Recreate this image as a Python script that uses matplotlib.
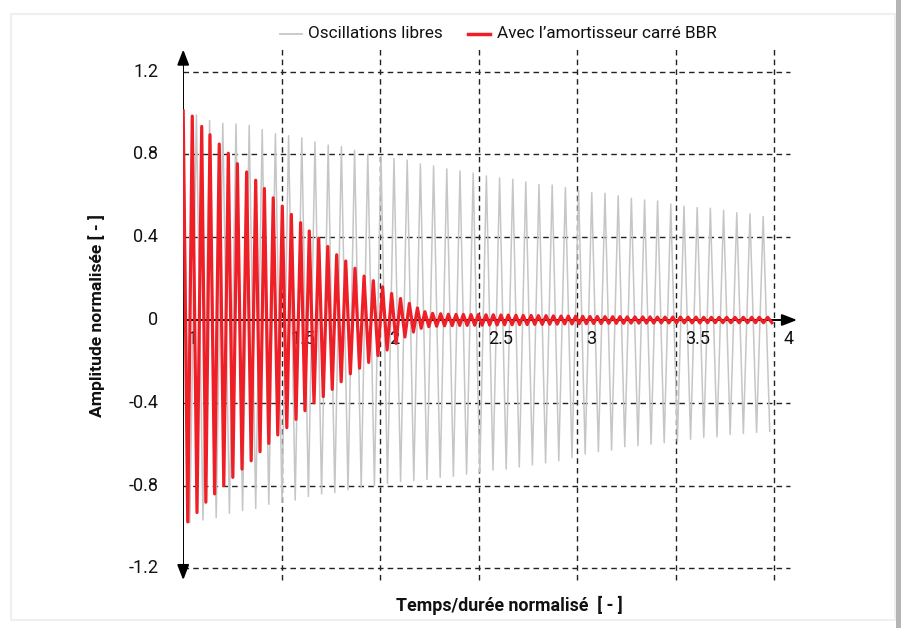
import matplotlib
matplotlib.use("Agg")
import matplotlib.pyplot as plt
from matplotlib.lines import Line2D
from matplotlib.patches import Rectangle
from matplotlib import font_manager as fm

# ---------------- data ----------------
# free oscillations: positive peaks (x, y) and the trough that follows each peak
gray_peak_x = [1.000, 1.067, 1.134, 1.201, 1.268, 1.335, 1.401, 1.468, 1.535, 1.602,
               1.669, 1.736, 1.803, 1.870, 1.937, 2.004, 2.070, 2.137, 2.204, 2.271,
               2.338, 2.405, 2.472, 2.539, 2.606, 2.673, 2.739, 2.806, 2.873, 2.940,
               3.007, 3.074, 3.141, 3.208, 3.275, 3.342, 3.408, 3.475, 3.542, 3.609,
               3.676, 3.743, 3.810, 3.877, 3.944]
gray_peak_y = [1.00, 0.99, 0.963, 0.95, 0.947, 0.94, 0.92, 0.90, 0.89, 0.88,
               0.86, 0.845, 0.837, 0.82, 0.80, 0.79, 0.78, 0.773, 0.754, 0.744,
               0.73, 0.72, 0.71, 0.696, 0.686, 0.68, 0.667, 0.655, 0.652, 0.64,
               0.628, 0.615, 0.612, 0.60, 0.588, 0.58, 0.575, 0.56, 0.55, 0.543,
               0.54, 0.53, 0.518, 0.512, 0.50]
gray_trough_y = [-0.98, -0.966, -0.955, -0.934, -0.92, -0.91, -0.89, -0.88, -0.87, -0.853,
                 -0.84, -0.834, -0.82, -0.81, -0.80, -0.79, -0.78, -0.776, -0.77, -0.76,
                 -0.755, -0.745, -0.735, -0.725, -0.72, -0.71, -0.70, -0.69, -0.68, -0.665,
                 -0.647, -0.636, -0.628, -0.612, -0.607, -0.60, -0.593, -0.587, -0.576, -0.567,
                 -0.564, -0.553, -0.548, -0.543, -0.537]

# with the BBR square damper: positive peaks (x, y) and the following troughs
red_peak_x = [1.000, 1.046, 1.094, 1.136, 1.183, 1.229, 1.275, 1.322, 1.368, 1.412,
              1.457, 1.503, 1.549, 1.596, 1.640, 1.688, 1.734, 1.779, 1.825, 1.872,
              1.918, 1.965, 2.012, 2.058, 2.103, 2.148, 2.189, 2.227, 2.266, 2.307,
              2.346, 2.385, 2.422, 2.461, 2.498, 2.537, 2.574, 2.613, 2.650, 2.689,
              2.726, 2.766, 2.803, 2.842, 2.879, 2.918, 2.955, 2.992, 3.028, 3.065,
              3.102, 3.141, 3.180, 3.217, 3.254, 3.293, 3.333, 3.370, 3.407, 3.446,
              3.485, 3.524, 3.563, 3.603, 3.642, 3.681, 3.720, 3.759, 3.801, 3.843,
              3.886, 3.924, 3.967]
red_peak_y = [1.01, 0.985, 0.935, 0.895, 0.85, 0.805, 0.755, 0.715, 0.675, 0.635,
              0.59, 0.55, 0.51, 0.47, 0.43, 0.395, 0.355, 0.315, 0.285, 0.25,
              0.212, 0.19, 0.16, 0.128, 0.104, 0.08, 0.058, 0.04, 0.032, 0.03,
              0.028, 0.027, 0.027, 0.026, 0.026, 0.025, 0.025, 0.024, 0.024, 0.023,
              0.022, 0.022, 0.021, 0.021, 0.020, 0.019, 0.019, 0.018, 0.018, 0.017,
              0.017, 0.016, 0.016, 0.016, 0.015, 0.015, 0.015, 0.015, 0.014, 0.014,
              0.014, 0.014, 0.014, 0.014, 0.013, 0.013, 0.013, 0.013, 0.013, 0.013,
              0.013, 0.013, 0.013]
red_trough_y = [-0.975, -0.93, -0.88, -0.84, -0.80, -0.76, -0.72, -0.68, -0.636, -0.596,
                -0.555, -0.52, -0.48, -0.438, -0.40, -0.37, -0.335, -0.298, -0.26, -0.233,
                -0.205, -0.172, -0.145, -0.113, -0.082, -0.058, -0.04, -0.032, -0.03, -0.028,
                -0.027, -0.026, -0.026, -0.025, -0.025, -0.024, -0.024, -0.023, -0.023, -0.022,
                -0.022, -0.021, -0.021, -0.020, -0.020, -0.019, -0.019, -0.018, -0.018, -0.017,
                -0.017, -0.016, -0.016, -0.016, -0.015, -0.015, -0.015, -0.015, -0.014, -0.014,
                -0.014, -0.014, -0.014, -0.014, -0.013, -0.013, -0.013, -0.013, -0.013, -0.013,
                -0.013, -0.013, -0.013]

x_ticks = [1, 1.5, 2, 2.5, 3, 3.5, 4]
x_tick_labels = ["1", "1.5", "2", "2.5", "3", "3.5", "4"]
y_ticks = [1.2, 0.8, 0.4, 0, -0.4, -0.8, -1.2]
y_tick_labels = ["1.2", "0.8", "0.4", "0", "-0.4", "-0.8", "-1.2"]

series_labels = ["Oscillations libres", "Avec l\u2019amortisseur carré BBR"]
x_label = "Temps/durée normalisé  [ - ]"
y_label = "Amplitude normalisée [ - ]"

# ---------------- style ----------------
avail = {f.name for f in fm.fontManager.ttflist}
fam = [f for f in ["Liberation Sans Narrow", "Roboto", "DejaVu Sans"] if f in avail]
plt.rcParams["font.family"] = fam
GRAY = "#c6c6c6"
RED = "#ee1f26"


def extrema_path(px, py, ty):
    xs, ys = [], []
    n = len(px)
    for i in range(n):
        xs.append(px[i]); ys.append(py[i])
        if i + 1 < n:
            tx = (px[i] + px[i + 1]) / 2
        else:
            tx = px[i] + (px[i] - px[i - 1]) / 2
        xs.append(tx); ys.append(ty[i])
    return xs, ys


W, H = 901, 628
fig = plt.figure(figsize=(W / 100, H / 100), dpi=100)
fig.patch.set_facecolor("white")

# page frame
fig.add_artist(Rectangle((11 / W, 1 - 620 / H), 884 / W, 606 / H, transform=fig.transFigure,
                         facecolor="none", edgecolor="#efefef", lw=1.5))
fig.add_artist(Rectangle((896 / W, 0), 5 / W, 1, transform=fig.transFigure,
                         facecolor="#b5b5b5", edgecolor="none"))

x0, x1 = 1.0, 4.13
y0, y1 = -1.26, 1.33
left_px, xs_px = 183.2, 197.0
zero_px, ys_px = 320.0, 207.0
ax_left = left_px
ax_right = left_px + (x1 - x0) * xs_px
ax_top = zero_px - y1 * ys_px
ax_bot = zero_px - y0 * ys_px
ax = fig.add_axes([ax_left / W, 1 - ax_bot / H, (ax_right - ax_left) / W, (ax_bot - ax_top) / H])
ax.set_xlim(x0, x1)
ax.set_ylim(y0, y1)
for s in ax.spines.values():
    s.set_visible(False)
ax.set_xticks([]); ax.set_yticks([])
ax.patch.set_alpha(0)

dash = (0, (4.0, 3.0))
for yv in y_ticks:
    if yv == 0:
        continue
    ax.plot([x0, 4.08], [yv, yv], color="#222222", lw=1.0, ls=dash, zorder=1)
for xv in x_ticks[1:]:
    ax.plot([xv, xv], [-1.255, 1.315], color="#222222", lw=1.0, ls=dash, zorder=1)

gx, gy = extrema_path(gray_peak_x, gray_peak_y, gray_trough_y)
rx, ry = extrema_path(red_peak_x, red_peak_y, red_trough_y)
ax.plot(gx, gy, color=GRAY, lw=1.1, zorder=2, solid_joinstyle="round")
ax.plot([x0, 4.09], [0, 0], color="black", lw=1.4, zorder=3)
ax.plot([x0, x0], [-1.2, 1.26], color="black", lw=1.4, zorder=3)
ax.plot(rx, ry, color=RED, lw=2.3, zorder=4, solid_joinstyle="round")

# arrow heads
ax.annotate("", xy=(x1, 0), xytext=(4.06, 0), xycoords="data",
            arrowprops=dict(arrowstyle="-|>,head_length=0.9,head_width=0.35", color="black", lw=1.4),
            zorder=5, annotation_clip=False)
ax.annotate("", xy=(x0, y1 - 0.01), xytext=(x0, 1.22),
            arrowprops=dict(arrowstyle="-|>,head_length=0.9,head_width=0.35", color="black", lw=1.4),
            zorder=5, annotation_clip=False)
ax.annotate("", xy=(x0, -1.27), xytext=(x0, -1.18),
            arrowprops=dict(arrowstyle="-|>,head_length=0.9,head_width=0.35", color="black", lw=1.4),
            zorder=5, annotation_clip=False)

# tick labels
for xv, lab in zip(x_ticks, x_tick_labels):
    off = 4 if xv == 1 else 9
    ax.annotate(lab, xy=(xv, 0), xytext=(off * 0.72, -10 * 0.72), textcoords="offset points",
                ha="left", va="top", fontsize=13, color="#111111")
for yv, lab in zip(y_ticks, y_tick_labels):
    ax.annotate(lab, xy=(x0, yv), xytext=(-25 * 0.72, 0), textcoords="offset points",
                ha="right", va="center", fontsize=13, color="#111111")

fig.text(509 / W, 1 - 605 / H, x_label, ha="center", va="center", fontsize=12.8,
         fontweight="bold", color="#111111")
fig.text(97 / W, 1 - 316 / H, y_label, ha="center", va="center", rotation=90, fontsize=12.6,
         fontweight="bold", color="#111111")

# legend
ly = 1 - 34 / H
fig.add_artist(Line2D([280 / W, 302 / W], [ly, ly], color=GRAY, lw=1.3))
fig.text(308 / W, ly, series_labels[0], ha="left", va="center", fontsize=12.3, color="#111111")
fig.add_artist(Line2D([468 / W, 490 / W], [ly, ly], color=RED, lw=2.5))
fig.text(497 / W, ly, series_labels[1], ha="left", va="center", fontsize=12.3, color="#111111")

fig.savefig("out.png", dpi=100, facecolor="white")
